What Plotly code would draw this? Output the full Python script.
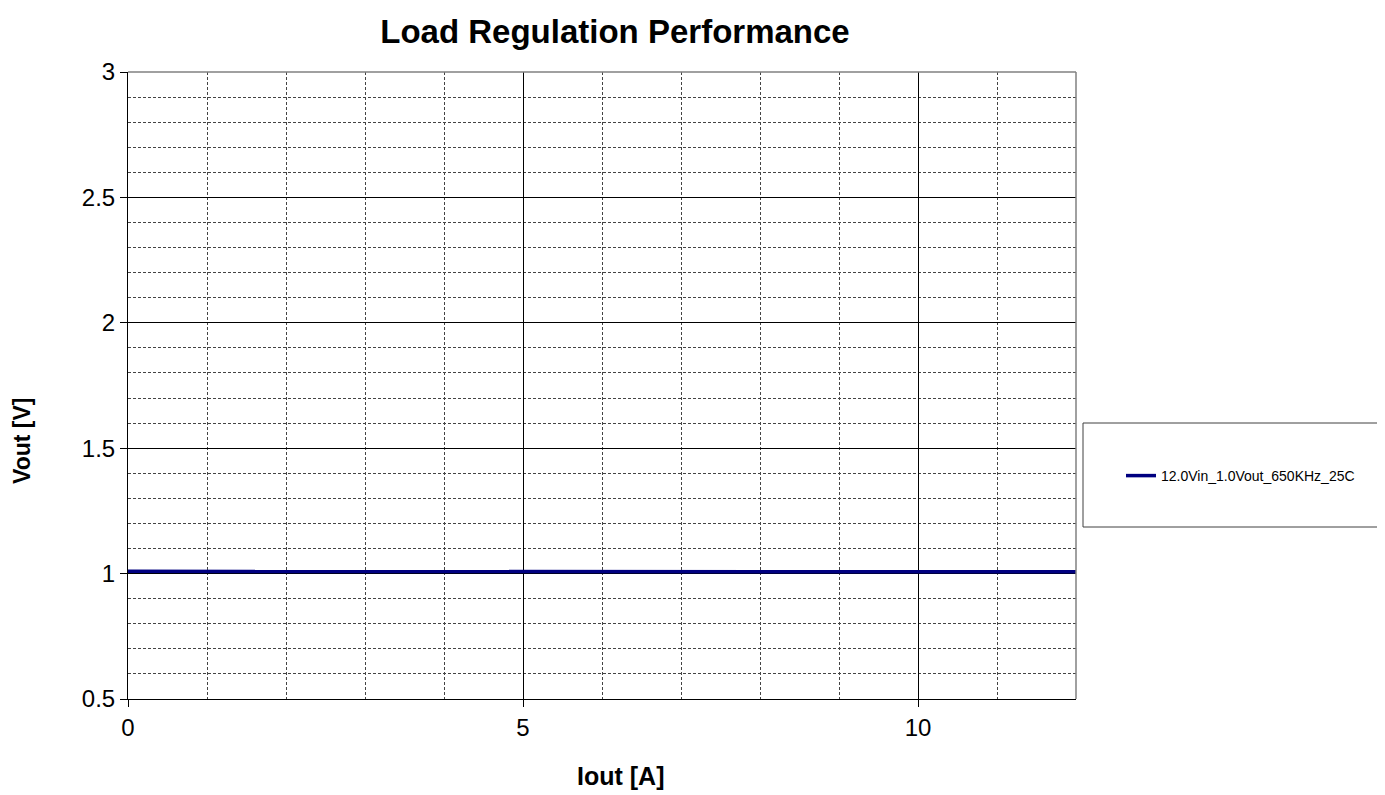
import plotly.graph_objects as go

iout = [0, 1, 2, 3, 4, 5, 6, 7, 8, 9, 10, 11, 12]
vout = [1.009, 1.009, 1.008, 1.008, 1.008, 1.008, 1.007, 1.007, 1.007, 1.007, 1.007, 1.007, 1.007]
series_name = "12.0Vin_1.0Vout_650KHz_25C"

FONT = "Liberation Sans, Arial, sans-serif"

# page body has an 8px margin, so the figure is drawn 8px in from the top/left
W, H = 1377, 787
L, T = 120, 64
R, B = 309, 96
PW = W - L - R
PH = H - T - B

def px_x(px):  # absolute screen x -> paper
    return (px - 8 - L) / PW

def px_y(py):  # absolute screen y -> paper
    return (H - B + 8 - py) / PH

fig = go.Figure()
fig.add_trace(go.Scatter(x=iout, y=vout, mode="lines", name=series_name,
                         line=dict(color="#000080", width=3.5)))

axis_common = dict(
    showline=True, linecolor="black", linewidth=1,
    ticks="outside", ticklen=7, tickcolor="black",
    showgrid=True, gridcolor="black", gridwidth=1,
    zeroline=False,
    tickfont=dict(family=FONT, size=24, color="black"),
)

fig.update_layout(
    width=W, height=H,
    paper_bgcolor="white", plot_bgcolor="white",
    margin=dict(l=L, r=R, t=T, b=B),
    title=dict(text="<b>Load Regulation Performance</b>", x=(615 - 8) / W, xanchor="center",
               y=1 - (31 - 8) / H, yanchor="middle",
               font=dict(family=FONT, size=33, color="black")),
    xaxis=dict(range=[0, 12], dtick=5, tick0=0,
               minor=dict(dtick=1, showgrid=True, gridcolor="#444", griddash="3px,2px", gridwidth=1, ticks=""),
               **axis_common),
    yaxis=dict(range=[0.5, 3], dtick=0.5, tick0=0.5,
               minor=dict(dtick=0.1, showgrid=True, gridcolor="#444", griddash="3px,2px", gridwidth=1, ticks=""),
               **axis_common),
    showlegend=True,
    legend=dict(x=px_x(1121), y=px_y(476), xanchor="left", yanchor="middle",
                bgcolor="rgba(0,0,0,0)", borderwidth=0,
                font=dict(family=FONT, size=14, color="black")),
    annotations=[
        dict(text="<b>Iout [A]</b>", xref="paper", yref="paper", x=px_x(620), y=px_y(776),
             xanchor="center", yanchor="middle", showarrow=False,
             font=dict(family=FONT, size=25, color="black")),
        dict(text="<b>Vout [V]</b>", xref="paper", yref="paper", x=px_x(22), y=px_y(441),
             xanchor="center", yanchor="middle", showarrow=False, textangle=-90,
             font=dict(family=FONT, size=23, color="black")),
    ],
    shapes=[
        dict(type="line", xref="paper", yref="paper", x0=0, x1=1, y0=1, y1=1,
             line=dict(color="#808080", width=1.5)),
        dict(type="line", xref="paper", yref="paper", x0=1, x1=1, y0=0, y1=1,
             line=dict(color="#808080", width=1.5)),
        dict(type="rect", xref="paper", yref="paper",
             x0=px_x(1083), x1=px_x(1378),
             y0=px_y(527), y1=px_y(423),
             line=dict(color="#404040", width=1), fillcolor="rgba(0,0,0,0)"),
    ],
)

fig.write_html("out.html")
